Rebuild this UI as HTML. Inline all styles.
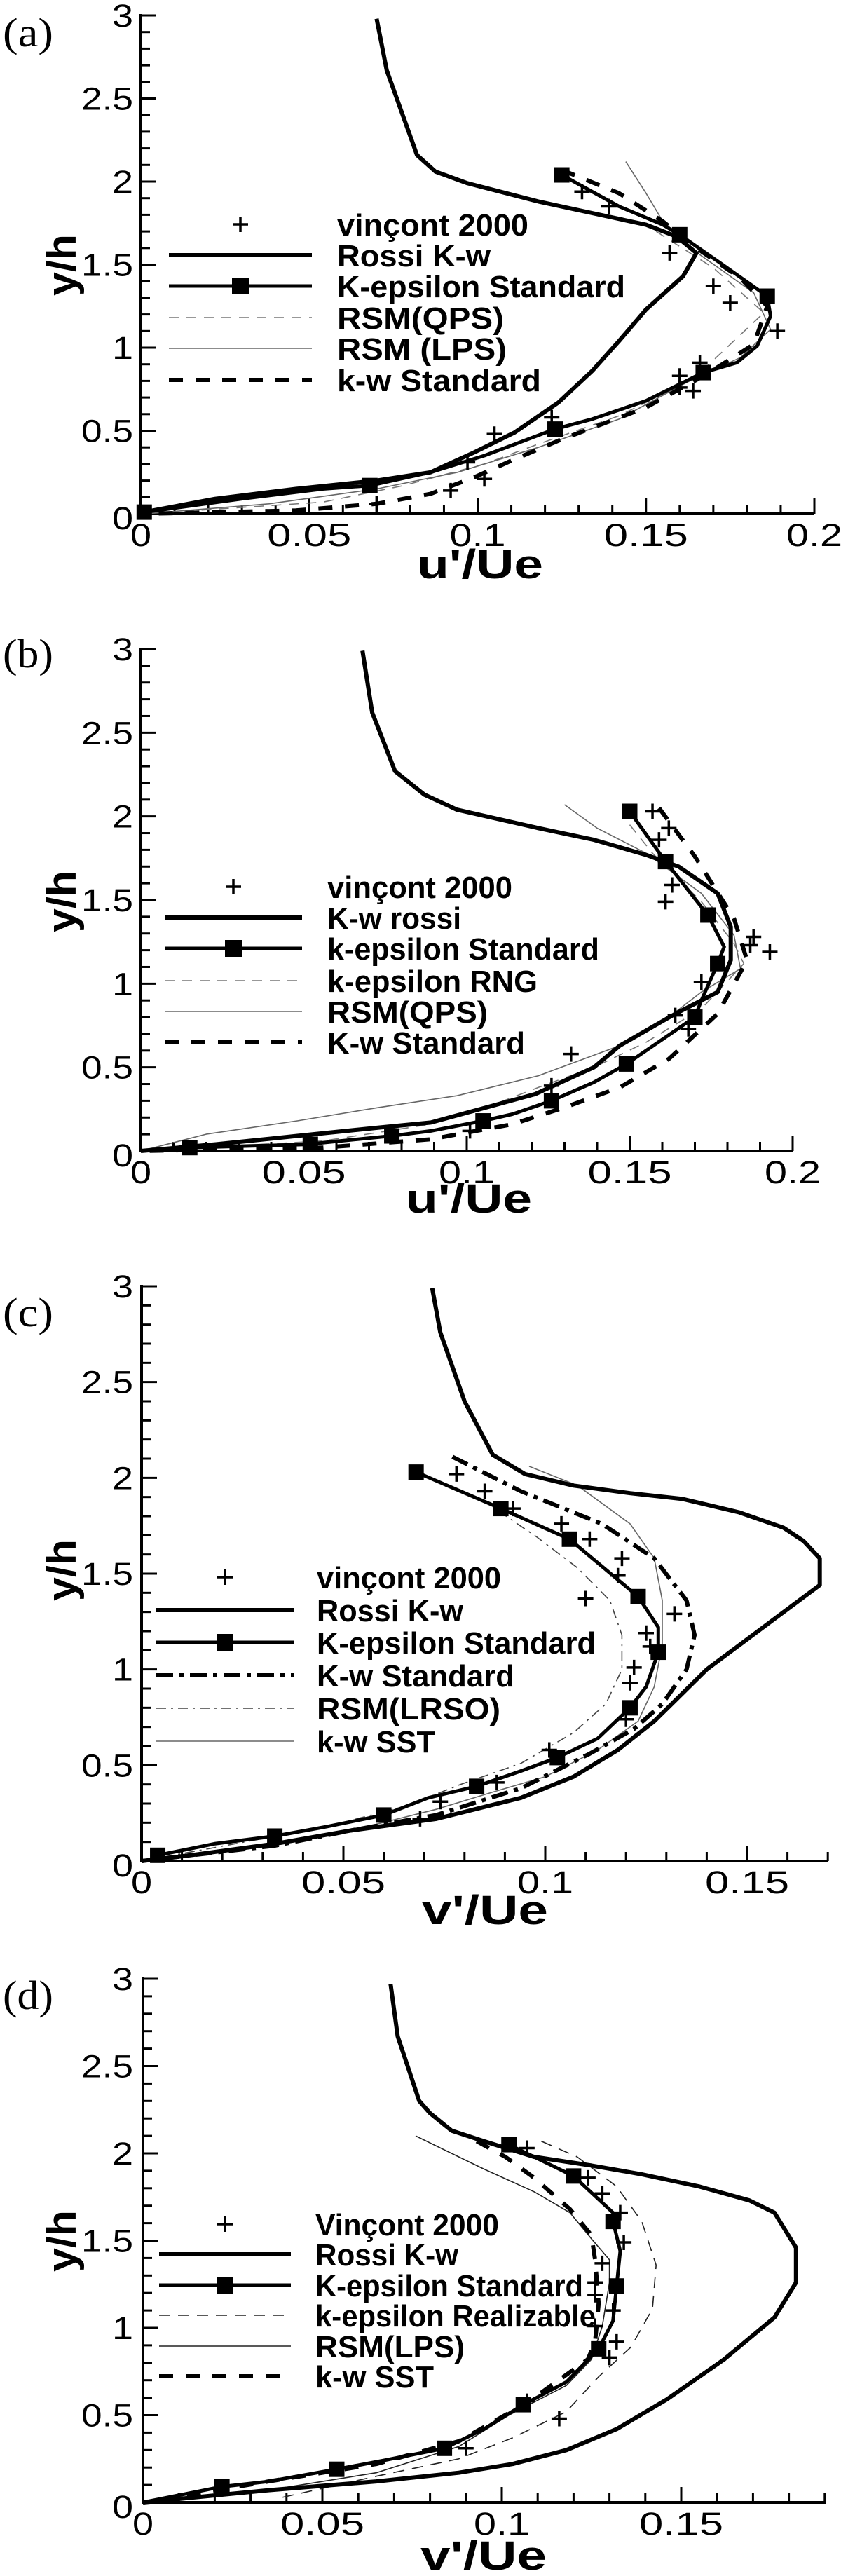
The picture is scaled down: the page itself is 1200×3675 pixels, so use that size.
<!DOCTYPE html>
<html><head><meta charset="utf-8"><title>Turbulence intensity profiles</title>
<style>
html,body{margin:0;padding:0;background:#fff;}
svg{display:block;}
text{font-family:"Liberation Sans",Arial,sans-serif;fill:#000;}
</style></head>
<body>
<svg id="fig" width="1200" height="3675" viewBox="0 0 1200 3675" xmlns="http://www.w3.org/2000/svg"></svg>
<script>
// ---------- DATA (x = fluctuation / Ue, y = y/h) ----------
const yTicks = [0, 0.5, 1, 1.5, 2, 2.5, 3];
const yTickLabels = ["0", "0.5", "1", "1.5", "2", "2.5", "3"];
const xTicksAB = [0, 0.05, 0.1, 0.15, 0.2];
const xTickLabelsAB = ["0", "0.05", "0.1", "0.15", "0.2"];
const xTicksCD = [0, 0.05, 0.1, 0.15];
const xTickLabelsCD = ["0", "0.05", "0.1", "0.15"];

// Panel (a)
const aExp = [[0.131,1.94],[0.139,1.85],[0.157,1.57],[0.170,1.37],[0.175,1.27],[0.189,1.10],[0.166,0.91],[0.160,0.83],[0.164,0.74],[0.160,0.76],[0.122,0.58],[0.105,0.48],[0.097,0.31],[0.102,0.21],[0.092,0.14],[0.070,0.06]];
const aRossi = [[0.070,2.98],[0.073,2.67],[0.082,2.16],[0.0875,2.06],[0.097,1.99],[0.118,1.88],[0.134,1.81],[0.150,1.74],[0.159,1.67],[0.165,1.57],[0.161,1.43],[0.150,1.23],[0.142,1.04],[0.134,0.86],[0.124,0.67],[0.111,0.49],[0.099,0.37],[0.086,0.25],[0.070,0.20],[0.046,0.15],[0.022,0.09],[0.001,0.01]];
const aKeps = [[0.125,2.04],[0.142,1.85],[0.155,1.74],[0.160,1.68],[0.172,1.51],[0.186,1.31],[0.187,1.19],[0.183,1.01],[0.177,0.91],[0.167,0.85],[0.150,0.68],[0.134,0.57],[0.123,0.51],[0.102,0.35],[0.086,0.25],[0.068,0.17],[0.054,0.15],[0.030,0.09],[0.001,0.01]];
const aKepsMarks = [[0.125,2.04],[0.160,1.68],[0.186,1.31],[0.167,0.85],[0.123,0.51],[0.068,0.17],[0.001,0.01]];
const aQps = [[0.153,1.70],[0.170,1.48],[0.185,1.21],[0.164,0.81],[0.142,0.59],[0.118,0.42],[0.102,0.30],[0.078,0.17],[0.054,0.07],[0.001,0.0]];
const aLps = [[0.144,2.12],[0.150,1.93],[0.155,1.76],[0.166,1.56],[0.182,1.33],[0.187,1.11],[0.178,0.94],[0.162,0.79],[0.142,0.57],[0.118,0.40],[0.094,0.25],[0.070,0.15],[0.038,0.06],[0.001,0.0]];
const aKw = [[0.125,2.07],[0.142,1.93],[0.155,1.76],[0.165,1.60],[0.178,1.42],[0.186,1.25],[0.182,1.02],[0.168,0.84],[0.150,0.64],[0.124,0.44],[0.110,0.32],[0.099,0.22],[0.086,0.12],[0.070,0.06],[0.046,0.02],[0.001,0.0]];

// Panel (b)
const bExp = [[0.157,2.03],[0.162,1.93],[0.159,1.86],[0.163,1.59],[0.161,1.49],[0.188,1.28],[0.187,1.23],[0.193,1.19],[0.172,1.01],[0.164,0.81],[0.168,0.73],[0.132,0.58],[0.126,0.39],[0.101,0.12]];
const bRossi = [[0.068,2.99],[0.071,2.62],[0.078,2.27],[0.087,2.13],[0.097,2.04],[0.122,1.93],[0.139,1.86],[0.155,1.77],[0.165,1.70],[0.177,1.54],[0.181,1.34],[0.181,1.14],[0.177,0.95],[0.164,0.82],[0.147,0.63],[0.139,0.50],[0.121,0.34],[0.106,0.26],[0.089,0.17],[0.073,0.14],[0.048,0.09],[0.023,0.04],[0.0,0.0]];
const bKeps = [[0.150,2.03],[0.161,1.73],[0.174,1.41],[0.179,1.22],[0.177,1.12],[0.172,0.90],[0.170,0.80],[0.155,0.60],[0.149,0.52],[0.139,0.41],[0.126,0.30],[0.114,0.22],[0.105,0.18],[0.089,0.12],[0.077,0.09],[0.056,0.05],[0.052,0.04],[0.015,0.02],[0.0,0.0]];
const bKepsMarks = [[0.150,2.03],[0.161,1.73],[0.174,1.41],[0.177,1.12],[0.170,0.80],[0.149,0.52],[0.126,0.30],[0.105,0.18],[0.077,0.09],[0.052,0.04],[0.015,0.02]];
const bRng = [[0.150,1.95],[0.157,1.78],[0.172,1.49],[0.182,1.24],[0.185,1.12],[0.172,0.85],[0.155,0.65],[0.139,0.50],[0.122,0.38],[0.106,0.26],[0.089,0.16],[0.056,0.06],[0.0,0.0]];
const bQps = [[0.130,2.07],[0.140,1.93],[0.155,1.78],[0.172,1.54],[0.182,1.29],[0.184,1.09],[0.172,0.95],[0.160,0.77],[0.147,0.63],[0.122,0.45],[0.097,0.33],[0.073,0.26],[0.048,0.18],[0.020,0.10],[0.0,0.0]];
const bKw = [[0.159,2.05],[0.170,1.76],[0.182,1.39],[0.186,1.14],[0.177,0.82],[0.162,0.55],[0.147,0.38],[0.130,0.26],[0.114,0.16],[0.089,0.07],[0.056,0.02],[0.0,0.0]];

// Panel (c)
const cExp = [[0.078,2.02],[0.085,1.93],[0.092,1.84],[0.104,1.76],[0.111,1.68],[0.119,1.58],[0.118,1.49],[0.110,1.37],[0.132,1.29],[0.125,1.19],[0.126,1.12],[0.122,1.01],[0.121,0.93],[0.120,0.74],[0.101,0.58],[0.088,0.41],[0.074,0.31],[0.069,0.22]];
const cRossi = [[0.072,2.99],[0.074,2.76],[0.080,2.40],[0.087,2.12],[0.095,2.02],[0.107,1.96],[0.121,1.92],[0.134,1.89],[0.148,1.82],[0.159,1.74],[0.164,1.67],[0.168,1.58],[0.168,1.44],[0.154,1.22],[0.140,1.00],[0.127,0.73],[0.118,0.58],[0.107,0.44],[0.094,0.33],[0.073,0.22],[0.052,0.16],[0.033,0.09],[0.012,0.03],[0.0,0.0]];
const cKeps = [[0.068,2.03],[0.089,1.84],[0.106,1.68],[0.123,1.38],[0.128,1.22],[0.128,1.09],[0.125,0.91],[0.121,0.80],[0.113,0.64],[0.103,0.54],[0.094,0.47],[0.083,0.39],[0.071,0.33],[0.060,0.24],[0.046,0.18],[0.033,0.13],[0.018,0.09],[0.004,0.03]];
const cKepsMarks = [[0.068,2.03],[0.089,1.84],[0.106,1.68],[0.123,1.38],[0.128,1.09],[0.121,0.80],[0.103,0.54],[0.083,0.39],[0.060,0.24],[0.033,0.13],[0.004,0.03]];
const cKw = [[0.077,2.11],[0.094,1.93],[0.114,1.76],[0.127,1.58],[0.135,1.36],[0.137,1.18],[0.135,1.00],[0.129,0.82],[0.122,0.69],[0.111,0.56],[0.094,0.38],[0.073,0.24],[0.052,0.16],[0.033,0.08],[0.0,0.0]];
const cLrso = [[0.084,1.89],[0.098,1.69],[0.108,1.53],[0.116,1.36],[0.119,1.18],[0.119,1.00],[0.115,0.82],[0.107,0.67],[0.094,0.51],[0.079,0.40],[0.066,0.29],[0.046,0.18],[0.018,0.07],[0.0,0.0]];
const cSst = [[0.096,2.06],[0.108,1.96],[0.121,1.76],[0.127,1.58],[0.129,1.36],[0.129,1.13],[0.127,0.91],[0.123,0.73],[0.113,0.58],[0.100,0.44],[0.087,0.36],[0.073,0.27],[0.052,0.16],[0.033,0.09],[0.0,0.0]];

// Panel (d)
const dExp = [[0.107,2.03],[0.124,1.86],[0.128,1.77],[0.133,1.66],[0.134,1.49],[0.128,1.37],[0.126,1.26],[0.126,1.19],[0.131,1.10],[0.126,1.01],[0.132,0.92],[0.130,0.83],[0.107,0.58],[0.116,0.48],[0.090,0.31]];
const dRossi = [[0.069,2.97],[0.071,2.67],[0.077,2.30],[0.080,2.23],[0.086,2.13],[0.095,2.07],[0.109,1.98],[0.125,1.93],[0.139,1.88],[0.155,1.81],[0.169,1.73],[0.176,1.66],[0.182,1.46],[0.182,1.26],[0.176,1.06],[0.162,0.82],[0.146,0.59],[0.132,0.42],[0.118,0.30],[0.103,0.22],[0.088,0.17],[0.065,0.12],[0.035,0.07],[0.0,0.0]];
const dKeps = [[0.102,2.05],[0.120,1.87],[0.131,1.66],[0.131,1.61],[0.133,1.44],[0.132,1.24],[0.131,1.04],[0.127,0.88],[0.118,0.69],[0.106,0.56],[0.095,0.42],[0.084,0.31],[0.067,0.24],[0.054,0.19],[0.035,0.12],[0.022,0.09],[0.0,0.0]];
const dKepsMarks = [[0.102,2.05],[0.120,1.87],[0.131,1.61],[0.132,1.24],[0.127,0.88],[0.106,0.56],[0.084,0.31],[0.054,0.19],[0.022,0.09]];
const dReal = [[0.111,2.07],[0.121,1.98],[0.132,1.81],[0.139,1.61],[0.143,1.36],[0.142,1.11],[0.136,0.89],[0.127,0.72],[0.118,0.52],[0.103,0.37],[0.088,0.25],[0.065,0.15],[0.037,0.02]];
const dLps = [[0.076,2.10],[0.095,1.91],[0.109,1.78],[0.119,1.66],[0.125,1.51],[0.130,1.39],[0.130,1.26],[0.128,1.01],[0.125,0.82],[0.118,0.67],[0.102,0.50],[0.088,0.32],[0.065,0.17],[0.035,0.07],[0.0,0.0]];
const dSst = [[0.093,2.07],[0.101,1.98],[0.109,1.86],[0.119,1.68],[0.125,1.53],[0.126,1.39],[0.127,1.14],[0.126,0.92],[0.124,0.82],[0.107,0.57],[0.088,0.35],[0.065,0.22],[0.035,0.12],[0.0,0.0]];

// ---------- DRAWING ----------
const NS = "http://www.w3.org/2000/svg";
const svg = document.getElementById("fig");
function mk(tag, attrs, parent){
  const e = document.createElementNS(NS, tag);
  for (const k in attrs) e.setAttribute(k, attrs[k]);
  (parent||svg).appendChild(e);
  return e;
}
const STY = {
  rossi:{stroke:"#000",w:6,dash:""},
  keps:{stroke:"#000",w:5,dash:""},
  thickDash:{stroke:"#000",w:6,dash:"20 18"},
  thinDashGray:{stroke:"#777",w:1.6,dash:"14 11"},
  thinSolidGray:{stroke:"#666",w:1.6,dash:""},
  thickDashDot:{stroke:"#000",w:6,dash:"24 9 6 9"},
  thinDashDot:{stroke:"#444",w:1.6,dash:"14 7 3 7"},
  thinDashBlack:{stroke:"#222",w:1.6,dash:"16 11"},
  thinSolidBlack:{stroke:"#222",w:1.6,dash:""}
};

function txt(parent, str, x, y, size, opts){
  opts = opts||{};
  const t = mk("text", {x:x, y:y, "font-size":size}, parent);
  if (opts.bold) t.setAttribute("font-weight","bold");
  if (opts.anchor) t.setAttribute("text-anchor", opts.anchor);
  if (opts.serif) t.setAttribute("style","font-family:'Liberation Serif',serif");
  if (opts.len){ t.setAttribute("textLength", opts.len); t.setAttribute("lengthAdjust","spacingAndGlyphs"); }
  if (opts.rot) t.setAttribute("transform","rotate(-90 "+x+" "+y+")");
  t.textContent = str;
  return t;
}

function panel(cfg){
  const g = mk("g", {});
  
  
  const X = v => cfg.x0 + v*cfg.sx;
  const Y = v => cfg.y0 - v*(cfg.y0-cfg.y3)/3;
  const ax = mk("g", {}, g);
  
  
  mk("line",{x1:cfg.x0,y1:cfg.y3-2,x2:cfg.x0,y2:cfg.y0+2,stroke:"#000","stroke-width":4},ax);
  mk("line",{x1:cfg.x0-2,y1:cfg.y0,x2:cfg.xEnd,y2:cfg.y0,stroke:"#000","stroke-width":4},ax);
  for (let i=0;i<=30;i++){
    const v=i/10, L=(i%5===0)?22:13;
    mk("line",{x1:cfg.x0,y1:Y(v),x2:cfg.x0+L,y2:Y(v),stroke:"#000","stroke-width":3},ax);
  }
  for (let i=0;i<=100;i++){
    const v=i/100; if (X(v)>cfg.xEnd+1) break;
    const L=(i%5===0)?22:13;
    mk("line",{x1:X(v),y1:cfg.y0,x2:X(v),y2:cfg.y0-L,stroke:"#000","stroke-width":3},ax);
  }
  yTicks.forEach((v,i)=>{
    const s=yTickLabels[i];
    const t=txt(ax,s,190,Y(v)+16+(v===0?6:0),45,{anchor:"end",len:s.length===1?30:74});
    
    
  });
  cfg.xt.forEach((v,i)=>{
    const s=cfg.xtl[i];
    const w = s.length===1?30:(s.length===3?80:120);
    const t=txt(ax,s,X(v),cfg.y0+46,45,{anchor:"middle",len:w});
    
    
  });
  const xl=txt(ax,cfg.xlabel,cfg.xlabelX,cfg.y0+cfg.xlabelDy,58,{anchor:"middle",bold:true,len:180});
  
  
  const yl=txt(ax,"y/h",108,cfg.ylabelY,58,{anchor:"middle",bold:true,rot:true,len:88});
  
  
  const pl=txt(g,cfg.tag,4,cfg.tagY,58,{serif:true,len:72});
  
  

  cfg.series.forEach(s=>{
    const sg=mk("g",{},g);
    
    
    if (s.line){
      const st=STY[s.line];
      const p=mk("polyline",{points:s.data.map(d=>X(d[0]).toFixed(1)+","+Y(d[1]).toFixed(1)).join(" "),fill:"none",stroke:st.stroke,"stroke-width":st.w,"stroke-linejoin":"round","stroke-linecap":"butt"},sg);
      if (st.dash) p.setAttribute("stroke-dasharray",st.dash);
      
      
    }
    if (s.marks){
      s.marks.forEach(d=>{
        const r=mk("rect",{x:X(d[0])-11,y:Y(d[1])-11,width:22,height:22,fill:"#000"},sg);
        
        
      });
    }
    if (s.plus){
      s.plus.forEach(d=>{
        const cx=X(d[0]), cy=Y(d[1]);
        const pth=mk("path",{d:"M"+(cx-11)+" "+cy+"H"+(cx+11)+"M"+cx+" "+(cy-11)+"V"+(cy+11),stroke:"#000","stroke-width":3.5,fill:"none"},sg);
        
        
      });
    }
  });

  const lg=mk("g",{},g);
  
  
  cfg.legend.forEach((e,i)=>{
    const y=cfg.legY[i];
    const eg=mk("g",{},lg);
    
    
    const mid=(cfg.legL1+cfg.legL2)/2;
    if (e.type==="plus"){
      mk("path",{d:"M"+(mid-11)+" "+y+"H"+(mid+11)+"M"+mid+" "+(y-11)+"V"+(y+11),stroke:"#000","stroke-width":3.5},eg);
    } else {
      const st=STY[e.type];
      const l=mk("line",{x1:cfg.legL1,y1:y,x2:cfg.legL2,y2:y,stroke:st.stroke,"stroke-width":st.w},eg);
      if (st.dash) l.setAttribute("stroke-dasharray",st.dash);
      if (e.sq) mk("rect",{x:mid-12,y:y-12,width:24,height:24,fill:"#000"},eg);
    }
    txt(eg,e.label,cfg.legT,y+16,44,{bold:true,len:e.w});
  });
}

panel({name:"panel-a",tag:"(a)",tagY:66,x0:201,sx:4805,xEnd:1162,y0:733,y3:22,xt:xTicksAB,xtl:xTickLabelsAB,
  xlabel:"u'/Ue",xlabelX:685,xlabelDy:92,ylabelY:378,
  legL1:241,legL2:445,legT:481,legY:[320,364,408,453,497,542],
  legend:[{type:"plus",label:"vinçont 2000",w:273},{type:"rossi",label:"Rossi K-w",w:219},{type:"keps",sq:true,label:"K-epsilon Standard",w:411},{type:"thinDashGray",label:"RSM(QPS)",w:238},{type:"thinSolidGray",label:"RSM (LPS)",w:242},{type:"thickDash",label:"k-w Standard",w:291}],
  series:[{id:"rsm-qps",line:"thinDashGray",data:aQps},{id:"rsm-lps",line:"thinSolidGray",data:aLps},{id:"kw-standard",line:"thickDash",data:aKw},{id:"rossi-kw",line:"rossi",data:aRossi},{id:"keps-standard",line:"keps",data:aKeps,marks:aKepsMarks},{id:"vincont-2000",plus:aExp}]
});
panel({name:"panel-b",tag:"(b)",tagY:952,x0:201,sx:4650,xEnd:1131,y0:1642,y3:926,xt:xTicksAB,xtl:xTickLabelsAB,
  xlabel:"u'/Ue",xlabelX:669,xlabelDy:88,ylabelY:1286,
  legL1:235,legL2:431,legT:467,legY:[1265,1309,1353,1399,1443,1487],
  legend:[{type:"plus",label:"vinçont 2000",w:264},{type:"rossi",label:"K-w rossi",w:191},{type:"keps",sq:true,label:"k-epsilon Standard",w:388},{type:"thinDashGray",label:"k-epsilon RNG",w:300},{type:"thinSolidGray",label:"RSM(QPS)",w:229},{type:"thickDash",label:"K-w Standard",w:282}],
  series:[{id:"keps-rng",line:"thinDashGray",data:bRng},{id:"rsm-qps",line:"thinSolidGray",data:bQps},{id:"kw-standard",line:"thickDash",data:bKw},{id:"rossi-kw",line:"rossi",data:bRossi},{id:"keps-standard",line:"keps",data:bKeps,marks:bKepsMarks},{id:"vincont-2000",plus:bExp}]
});
panel({name:"panel-c",tag:"(c)",tagY:1892,x0:202,sx:5760,xEnd:1181,y0:2655,y3:1835,xt:xTicksCD,xtl:xTickLabelsCD,
  xlabel:"v'/Ue",xlabelX:692,xlabelDy:90,ylabelY:2240,
  legL1:223,legL2:419,legT:452,legY:[2250,2297,2343,2390,2437,2484],
  legend:[{type:"plus",label:"vinçont 2000",w:263},{type:"rossi",label:"Rossi K-w",w:209},{type:"keps",sq:true,label:"K-epsilon Standard",w:398},{type:"thickDashDot",label:"K-w Standard",w:282},{type:"thinDashDot",label:"RSM(LRSO)",w:262},{type:"thinSolidGray",label:"k-w SST",w:169}],
  series:[{id:"rsm-lrso",line:"thinDashDot",data:cLrso},{id:"kw-sst",line:"thinSolidGray",data:cSst},{id:"kw-standard",line:"thickDashDot",data:cKw},{id:"rossi-kw",line:"rossi",data:cRossi},{id:"keps-standard",line:"keps",data:cKeps,marks:cKepsMarks},{id:"vincont-2000",plus:cExp}]
});
panel({name:"panel-d",tag:"(d)",tagY:2866,x0:204,sx:5120,xEnd:1178,y0:3570,y3:2823,xt:xTicksCD,xtl:xTickLabelsCD,
  xlabel:"v'/Ue",xlabelX:690,xlabelDy:96,ylabelY:3197,
  legL1:227,legL2:415,legT:450,legY:[3173,3216,3260,3303,3347,3390],
  legend:[{type:"plus",label:"Vinçont 2000",w:262},{type:"rossi",label:"Rossi K-w",w:204},{type:"keps",sq:true,label:"K-epsilon Standard",w:382},{type:"thinDashBlack",label:"k-epsilon Realizable",w:400},{type:"thinSolidBlack",label:"RSM(LPS)",w:213},{type:"thickDash",label:"k-w SST",w:169}],
  series:[{id:"keps-realizable",line:"thinDashBlack",data:dReal},{id:"rsm-lps",line:"thinSolidBlack",data:dLps},{id:"kw-sst",line:"thickDash",data:dSst},{id:"rossi-kw",line:"rossi",data:dRossi},{id:"keps-standard",line:"keps",data:dKeps,marks:dKepsMarks},{id:"vincont-2000",plus:dExp}]
});
</script>
</body></html>
